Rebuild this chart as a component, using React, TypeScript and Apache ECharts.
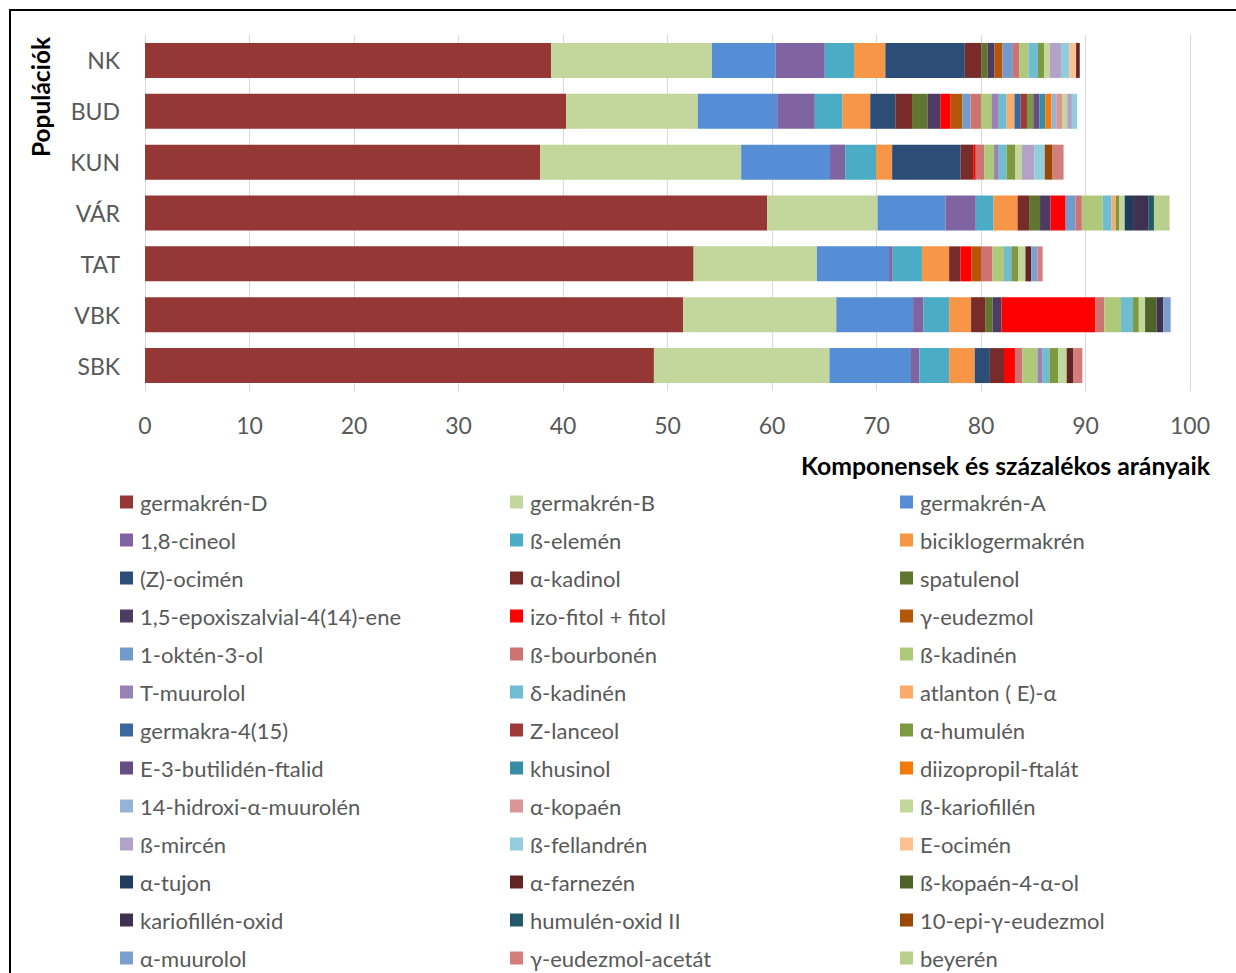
import React, { useEffect, useRef } from "react";
import * as echarts from "echarts";

const categories = ["NK", "BUD", "KUN", "VÁR", "TAT", "VBK", "SBK"];
const xTicks = [0, 10, 20, 30, 40, 50, 60, 70, 80, 90, 100];

// values per population, order: NK, BUD, KUN, VÁR, TAT, VBK, SBK
const germakrenD = [38.85, 40.3, 37.8, 59.55, 52.5, 51.5, 48.7];
const germakrenB = [15.4, 12.6, 19.25, 10.55, 11.8, 14.65, 16.8];
const germakrenA = [6.1, 7.6, 8.5, 6.5, 6.9, 7.35, 7.8];
const cineol = [4.7, 3.6, 1.45, 2.9, 0.35, 1.0, 0.8];
const belemen = [2.8, 2.65, 2.95, 1.7, 2.8, 2.45, 2.85];
const biciklogermakren = [3.0, 2.65, 1.55, 2.3, 2.6, 2.1, 2.45];
const zOcimen = [7.6, 2.4, 6.55, 0, 0, 0, 1.45];
const aKadinol = [1.6, 1.6, 1.2, 1.1, 1.1, 1.35, 1.35];
const spatulenol = [0.6, 1.5, 0, 1.05, 0, 0.7, 0];
const epoxiszalvial = [0.65, 1.2, 0, 1.0, 0, 0.85, 0];
const izoFitol = [0, 1.0, 0.25, 1.45, 1.05, 9.0, 1.05];
const gEudezmol = [0.75, 1.1, 0, 0, 0.9, 0, 0];
const oktenol = [1.0, 0.8, 0, 0.95, 0, 0, 0];
const bBourbonen = [0.6, 1.0, 0.8, 0.6, 1.1, 0.85, 0.7];
const bKadinen = [0.9, 1.0, 0.95, 2.0, 1.1, 1.6, 1.45];
const tMuurolol = [0, 0.7, 0.45, 0, 0, 0, 0.5];
const dKadinen = [0.9, 0.75, 0.75, 0.85, 0.7, 1.15, 0.65];
const atlanton = [0, 0.75, 0, 0.4, 0, 0, 0];
const germakra415 = [0, 0.6, 0, 0, 0, 0, 0];
const zLanceol = [0, 0.6, 0, 0, 0, 0, 0];
const aHumulen = [0.6, 0.6, 0.85, 0.35, 0.65, 0.55, 0.85];
const butilidenFtalid = [0, 0.6, 0, 0, 0, 0, 0];
const khusinol = [0, 0.55, 0, 0, 0, 0, 0];
const diizopropilFtalat = [0, 0.6, 0, 0, 0, 0, 0];
const hidroxiMuurolen = [0, 0.45, 0, 0, 0, 0, 0];
const aKopaen = [0, 0.6, 0, 0, 0, 0, 0];
const bKariofillen = [0.55, 0.45, 0.6, 0.5, 0.7, 0.6, 0.8];
const bMircen = [1.05, 0.45, 1.2, 0, 0, 0, 0];
const bFellandren = [0.8, 0.5, 1.0, 0, 0, 0, 0];
const eOcimen = [0.65, 0, 0, 0, 0, 0, 0];
const aTujon = [0, 0, 0, 0.8, 0, 0, 0];
const aFarnezen = [0.35, 0, 0, 0, 0.55, 0, 0.65];
const bKopaenol = [0, 0, 0, 0, 0, 1.1, 0];
const kariofillenOxid = [0, 0, 0, 1.5, 0, 0.65, 0];
const humulenOxid = [0, 0, 0, 0.5, 0, 0, 0];
const epiEudezmol = [0, 0, 0.75, 0, 0, 0, 0];
const aMuurolol = [0, 0, 0, 0, 0.6, 0.7, 0];
const eudezmolAcetat = [0, 0, 1.05, 0, 0.5, 0, 0.85];
const beyeren = [0, 0, 0, 1.5, 0, 0, 0];

const seriesNames = [
  "germakrén-D", "germakrén-B", "germakrén-A",
  "1,8-cineol", "ß-elemén", "biciklogermakrén",
  "(Z)-ocimén", "α-kadinol", "spatulenol",
  "1,5-epoxiszalvial-4(14)-ene", "izo-fitol + fitol", "γ-eudezmol",
  "1-oktén-3-ol", "ß-bourbonén", "ß-kadinén",
  "T-muurolol", "δ-kadinén", "atlanton ( E)-α",
  "germakra-4(15)", "Z-lanceol", "α-humulén",
  "E-3-butilidén-ftalid", "khusinol", "diizopropil-ftalát",
  "14-hidroxi-α-muurolén", "α-kopaén", "ß-kariofillén",
  "ß-mircén", "ß-fellandrén", "E-ocimén",
  "α-tujon", "α-farnezén", "ß-kopaén-4-α-ol",
  "kariofillén-oxid", "humulén-oxid II", "10-epi-γ-eudezmol",
  "α-muurolol", "γ-eudezmol-acetát", "beyerén",
];

const seriesValues = [
  germakrenD, germakrenB, germakrenA,
  cineol, belemen, biciklogermakren,
  zOcimen, aKadinol, spatulenol,
  epoxiszalvial, izoFitol, gEudezmol,
  oktenol, bBourbonen, bKadinen,
  tMuurolol, dKadinen, atlanton,
  germakra415, zLanceol, aHumulen,
  butilidenFtalid, khusinol, diizopropilFtalat,
  hidroxiMuurolen, aKopaen, bKariofillen,
  bMircen, bFellandren, eOcimen,
  aTujon, aFarnezen, bKopaenol,
  kariofillenOxid, humulenOxid, epiEudezmol,
  aMuurolol, eudezmolAcetat, beyeren,
];

const seriesColors = [
  "#953735", "#C3D69B", "#558ED5",
  "#8064A2", "#4BACC6", "#F79646",
  "#2C4D75", "#772C2A", "#5F7530",
  "#4D3B62", "#FF0000", "#B65708",
  "#729ACA", "#CD7371", "#AFC97A",
  "#9983B5", "#6FBDD1", "#F9AB6B",
  "#3A679C", "#9E3B38", "#7E9A41",
  "#664E82", "#358EA6", "#F57A0A",
  "#95B3D7", "#D99694", "#C4D79B",
  "#B3A2C7", "#93CDDD", "#FAC090",
  "#213D5E", "#632523", "#4F6228",
  "#3F3151", "#215968", "#984807",
  "#7BA0CD", "#D47E7C", "#B9CF8D",
];

const FONT = "Lato, 'Open Sans', sans-serif";

export default function App() {
  const ref = useRef<HTMLDivElement>(null);

  useEffect(() => {
    if (!ref.current) return;
    const chart = echarts.init(ref.current, null, { renderer: "svg" });

    const legendCols = [0, 1, 2].map((c) => ({
      orient: "vertical" as const,
      left: [115, 505, 895][c],
      top: 486,
      height: 560,
      itemWidth: 13,
      itemHeight: 13,
      itemGap: 16,
      icon: "rect",
      selectedMode: false,
      data: seriesNames.filter((_, i) => i % 3 === c),
      textStyle: {
        fontFamily: FONT,
        fontSize: 22,
        lineHeight: 22,
        color: "#595959",
        padding: [0, 0, 0, 2],
      },
    }));

    chart.setOption({
      animation: false,
      textStyle: { fontFamily: FONT },
      grid: { left: 145, top: 35, width: 1045, height: 356, containLabel: false },
      legend: legendCols,
      xAxis: {
        type: "value",
        min: 0,
        max: 100,
        interval: 10,
        data: xTicks,
        axisLine: { show: false },
        axisTick: { show: false },
        splitLine: { show: true, lineStyle: { color: "#D9D9D9", width: 1 } },
        axisLabel: { color: "#595959", fontSize: 23, fontFamily: FONT, margin: 22 },
      },
      yAxis: {
        type: "category",
        inverse: true,
        data: categories,
        axisLine: { show: false },
        axisTick: { show: false },
        axisLabel: { color: "#595959", fontSize: 23, fontFamily: FONT, margin: 25 },
      },
      graphic: [
        {
          type: "rect",
          shape: { x: 10, y: 10, width: 1250, height: 1000 },
          style: { fill: "none", stroke: "#000000", lineWidth: 2 },
          silent: true,
        },
        {
          type: "text",
          x: 1210,
          y: 465,
          style: {
            text: "Komponensek és százalékos arányaik",
            font: `bold 24.8px ${FONT}`,
            fill: "#000000",
            textAlign: "right",
            textVerticalAlign: "middle",
          },
        },
        {
          type: "text",
          x: 40,
          y: 97,
          rotation: Math.PI / 2,
          style: {
            text: "Populációk",
            font: `bold 24.5px ${FONT}`,
            fill: "#000000",
            textAlign: "center",
            textVerticalAlign: "middle",
          },
        },
      ],
      series: seriesNames.map((name, i) => ({
        name,
        type: "bar",
        stack: "total",
        barWidth: 35,
        data: seriesValues[i],
        itemStyle: { color: seriesColors[i] },
        emphasis: { disabled: true },
      })),
    });

    return () => chart.dispose();
  }, []);

  return (
    <div
      ref={ref}
      style={{ position: "absolute", left: 0, top: 0, width: 1236, height: 973, background: "#ffffff" }}
    />
  );
}
